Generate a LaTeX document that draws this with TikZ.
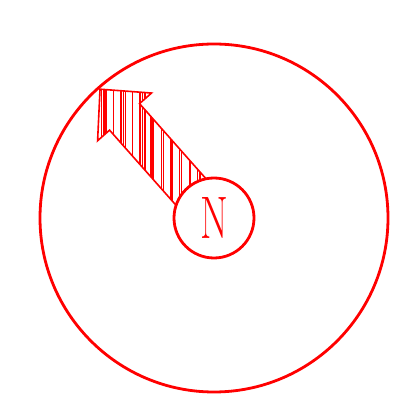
\documentclass[tikz,border=0pt]{standalone}
\begin{document}
\begin{tikzpicture}[x=1pt,y=1pt,
  ring/.style={circle,draw=red,line width=2.8pt,inner sep=0pt},
  arrowline/.style={draw=red,line width=1.6pt,line join=miter},
  hatch/.style={red,line width=1.3pt}]
\useasboundingbox (0,0) rectangle (416,418);
\coordinate (c) at (214,200);
% hatched arrow
\begin{scope}
  \clip[shift={(214,200)},rotate=131.5] (0,-20) -- (135,-20) -- (135,-36) -- (172,0) -- (135,36) -- (135,20) -- (0,20) -- cycle;
  \foreach \x in {101.7,104,106,113.3,121,123.3,125.7,132.3,140,142.7,145,151,153,161.7,163.3,171,172.3,179.3,181.7,190,197.3,200,206}
    \draw[hatch] (\x,180) -- (\x,340);
\end{scope}
\draw[arrowline,shift={(214,200)},rotate=131.5] (0,-20) -- (135,-20) -- (135,-36) -- (172,0) -- (135,36) -- (135,20) -- (0,20) -- cycle;
% circles
\node[ring,minimum size=348pt] (outer) at (c) {};
\node[ring,minimum size=80pt,fill=white,text=red,font=\fontsize{60}{60}\selectfont] (n) at (c) {\scalebox{0.67}[1]{N}};
\end{tikzpicture}
\end{document}
